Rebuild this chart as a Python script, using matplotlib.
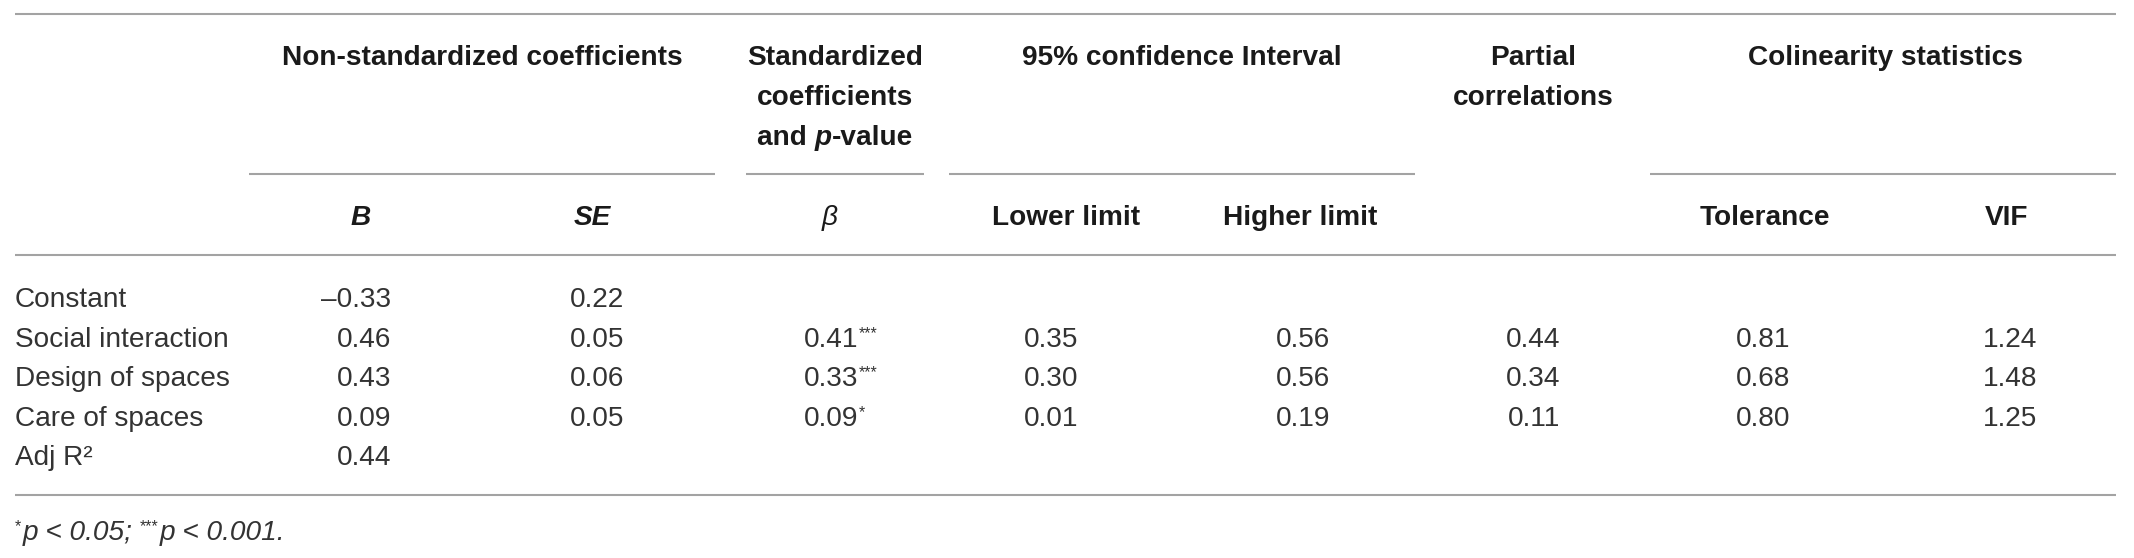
import matplotlib
matplotlib.use("Agg")
import matplotlib.pyplot as plt

# ---------------- data ----------------
row_labels = ["Constant", "Social interaction", "Design of spaces", "Care of spaces", "Adj R\u00b2"]
B_vals = [-0.33, 0.46, 0.43, 0.09, 0.44]
SE_vals = [0.22, 0.05, 0.06, 0.05, None]
beta_vals = [None, 0.41, 0.33, 0.09, None]
beta_sig = ["", "***", "***", "*", ""]
lower_vals = [None, 0.35, 0.30, 0.01, None]
higher_vals = [None, 0.56, 0.56, 0.19, None]
partial_vals = [None, 0.44, 0.34, 0.11, None]
tol_vals = [None, 0.81, 0.68, 0.80, None]
vif_vals = [None, 1.24, 1.48, 1.25, None]

group_headers = ["Non-standardized coefficients", "Standardized\ncoefficients\nand p-value",
                 "95% confidence Interval", "Partial\ncorrelations", "Colinearity statistics"]
sub_headers = ["B", "SE", "\u03b2", "Lower limit", "Higher limit", "Tolerance", "VIF"]
footnote = ["*", "p < 0.05;", "***", "p < 0.001."]

# ---------------- layout ----------------
W, H = 2134, 558
FONT = "Liberation Sans"
TXT = "#333333"
HDR = "#1a1a1a"
LINE = "#a3a3a3"
FS = 20.2
FS_SUP = 11.5

fig = plt.figure(figsize=(W / 100, H / 100), dpi=100)
ax = fig.add_axes([0, 0, 1, 1])
ax.set_xlim(0, W)
ax.set_ylim(H, 0)
ax.axis("off")
renderer = fig.canvas.get_renderer()

def txt(x, y, s, ha="center", weight="normal", style="normal", size=FS, color=None):
    if color is None:
        color = HDR if weight == "bold" else TXT
    return ax.text(x, y, s, ha=ha, va="baseline", fontfamily=FONT, fontweight=weight,
                   fontstyle=style, fontsize=size, color=color)

def runs(x, y, items, ha="left"):
    # items: (text, weight, style, size, dy, gap_after)
    ts, ws = [], []
    for s, wgt, sty, sz, dy, gap in items:
        t = txt(0, y + dy, s, ha="left", weight=wgt, style=sty, size=sz)
        ts.append((t, gap))
        ws.append(t.get_window_extent(renderer).width + gap)
    total = sum(ws)
    cur = x - total / 2 if ha == "center" else (x - total if ha == "right" else x)
    for (t, gap), w in zip(ts, ws):
        t.set_x(cur)
        cur += w

def hline(x0, x1, y):
    ax.plot([x0, x1], [y, y], color=LINE, lw=1.5, solid_capstyle="butt")

# horizontal rules
hline(15, 2116, 14)
for x0, x1 in [(249, 715), (746, 924), (949, 1415), (1650, 2116)]:
    hline(x0, x1, 174)
hline(15, 2116, 255)
hline(15, 2116, 495)

# group headers (baseline = centre + 10)
hb = 10
txt(482, 55 + hb, group_headers[0], weight="bold")
std_lines = group_headers[1].split("\n")
txt(835, 55 + hb, std_lines[0], weight="bold")
txt(835, 95 + hb, std_lines[1], weight="bold")
runs(835, 135 + hb, [("and ", "bold", "normal", FS, 0, 0),
                     ("p", "bold", "italic", FS, 0, 0),
                     ("-value", "bold", "normal", FS, 0, 0)], ha="center")
txt(1182, 55 + hb, group_headers[2], weight="bold")
pc = group_headers[3].split("\n")
txt(1533, 55 + hb, pc[0], weight="bold")
txt(1533, 95 + hb, pc[1], weight="bold")
txt(1885, 55 + hb, group_headers[4], weight="bold")

# sub headers
sub_x = [361, 592, 830, 1066, 1300, 1765, 2007]
sub_style = [("bold", "italic"), ("bold", "italic"), ("normal", "italic"),
             ("bold", "normal"), ("bold", "normal"), ("bold", "normal"), ("bold", "normal")]
for x, s, (wgt, sty) in zip(sub_x, sub_headers, sub_style):
    txt(x, 215 + hb, s, weight=wgt, style=sty, color=HDR)

# body
row_y = [297, 337, 376, 416, 455]

def fmt(v):
    if v is None:
        return ""
    s = f"{abs(v):.2f}"
    return ("\u2013" + s) if v < 0 else s

for i, lab in enumerate(row_labels):
    y = row_y[i] + hb
    txt(15, y, lab, ha="left")
    cols = [(391, B_vals), (624, SE_vals), (1078, lower_vals), (1330, higher_vals),
            (1560, partial_vals), (1790, tol_vals), (2037, vif_vals)]
    for xr, vals in cols:
        s = fmt(vals[i])
        if s:
            txt(xr, y, s, ha="right")
    s = fmt(beta_vals[i])
    if s:
        txt(858, y, s, ha="right")
        if beta_sig[i]:
            txt(859, y - 9, beta_sig[i], ha="left", size=FS_SUP)

# footnote
runs(15, 530 + hb, [(footnote[0], "normal", "normal", FS_SUP, -9, 1),
                    (footnote[1], "normal", "italic", FS, 0, 8),
                    (footnote[2], "normal", "normal", FS_SUP, -9, 1),
                    (footnote[3], "normal", "italic", FS, 0, 0)])

fig.savefig("out.png", dpi=100, facecolor="white")
